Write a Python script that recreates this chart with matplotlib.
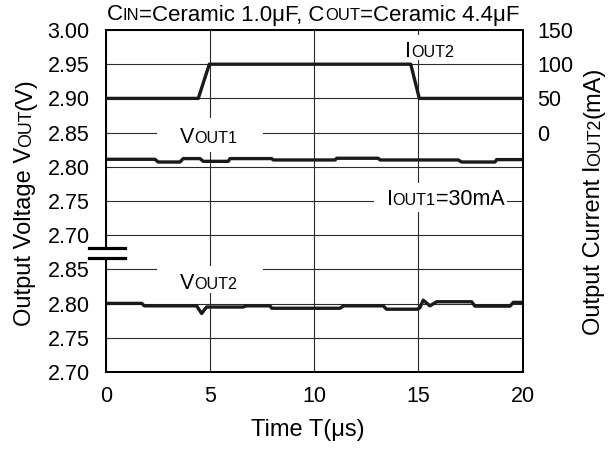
import matplotlib
matplotlib.use('Agg')
import matplotlib.pyplot as plt
import matplotlib.transforms as mtransforms
from matplotlib.offsetbox import TextArea, HPacker, AnnotationBbox
from matplotlib.patches import Rectangle
from matplotlib.lines import Line2D

plt.rcParams['font.family'] = ['Liberation Sans', 'DejaVu Sans']

# ---------------- data ----------------
time_ticks = [0, 5, 10, 15, 20]
upper_ticks = [2.70, 2.75, 2.80, 2.85, 2.90, 2.95, 3.00]
lower_ticks = [2.70, 2.75, 2.80, 2.85]
iout_ticks = [0, 50, 100, 150]

vout1_t = [0, 2.36, 2.52, 3.56, 3.72, 4.52, 4.68, 5.88, 5.96, 7.96, 8.04,
           11.0, 11.08, 13.07, 13.16, 16.91, 17.07, 18.67, 18.75, 20]
vout1_v = [2.811, 2.811, 2.807, 2.807, 2.812, 2.812, 2.808, 2.808, 2.812, 2.812, 2.810,
           2.810, 2.8125, 2.8125, 2.810, 2.810, 2.807, 2.807, 2.8105, 2.8105]

vout2_t = [0, 1.73, 1.85, 4.36, 4.6, 4.84, 6.59, 6.75, 7.88, 7.96, 11.24, 11.4,
           13.31, 13.47, 14.95, 15.07, 15.23, 15.55, 15.87, 17.55, 17.71, 19.39, 19.55, 20]
vout2_v = [2.8003, 2.8003, 2.7967, 2.7967, 2.7855, 2.795, 2.795, 2.7967, 2.7967, 2.7932, 2.7932, 2.7967,
           2.7967, 2.7918, 2.7918, 2.794, 2.805, 2.7967, 2.8027, 2.8027, 2.7963, 2.7963, 2.8018, 2.8018]

iout2_t = [0, 4.44, 4.97, 14.63, 15.04, 20]
iout2_i = [50, 50, 100, 100, 50, 50]

# ---------------- style ----------------
FS_TICK = 15.5
FS_LAB = 15.5
FS_AX = 17
FS_TITLE = 16
SC = 0.75
LINE_C = '#1a1a1a'
GRID_C = '#2a2a2a'
W, H = 612, 451

fig = plt.figure(figsize=(W / 100, H / 100), dpi=100)
pos = [105.7 / W, 1 - 372 / H, (522.7 - 105.7) / W, (372 - 30) / H]

ax_low = fig.add_axes(pos)
ax_up = fig.add_axes(pos, sharex=ax_low)
ax_up.patch.set_visible(False)
ax_i = ax_up.twinx()

for a in (ax_low, ax_up, ax_i):
    for s in a.spines.values():
        s.set_linewidth(1.3)
        s.set_color('black')

# lower voltage axis
ax_low.set_xticks(time_ticks)
ax_low.set_xticklabels([str(t) for t in time_ticks])
ax_low.set_yticks(lower_ticks)
ax_low.set_yticklabels(['%.2f' % v for v in lower_ticks])
ax_low.tick_params(axis='both', length=0, labelsize=FS_TICK)
ax_low.tick_params(axis='y', pad=11.5)
ax_low.tick_params(axis='x', pad=10)
ax_low.grid(True, axis='both', color=GRID_C, linewidth=0.8)
ax_low.set_axisbelow(True)

# upper voltage axis
ax_up.set_yticks(upper_ticks)
ax_up.set_yticklabels(['%.2f' % v for v in upper_ticks])
ax_up.tick_params(axis='y', length=0, labelsize=FS_TICK, pad=11.5)
ax_up.tick_params(axis='x', length=0, labelbottom=False)
ax_up.grid(True, axis='y', color=GRID_C, linewidth=0.8)

# current axis
ax_i.set_yticks(iout_ticks)
ax_i.set_yticklabels([str(v) for v in iout_ticks])
ax_i.tick_params(axis='y', length=0, labelsize=FS_TICK, pad=10.5)

# lines
ax_low.plot(vout2_t, vout2_v, color=LINE_C, lw=2.4, zorder=3)
ax_up.plot(vout1_t, vout1_v, color=LINE_C, lw=2.4, zorder=3)
ax_i.plot(iout2_t, iout2_i, color=LINE_C, lw=2.4, zorder=3)

# white gaps behind in-plot labels
gaps = [
    (ax_up, 2.46, 2.8215, 7.54, 2.8715),
    (ax_low, 2.46, 2.8155, 7.54, 2.8545),
    (ax_i, 14.1, 106, 17.0, 142.5),
    (ax_up, 12.87, 2.734, 19.25, 2.7765),
]
for a, x0, y0, x1, y1 in gaps:
    r = Rectangle((x0, y0), x1 - x0, y1 - y0, facecolor='white', edgecolor='none',
                  transform=a.transData, zorder=4)
    ax_i.add_patch(r)


def sc_label(x, y, parts, xycoords, fs):
    children = [TextArea(s, textprops=dict(fontsize=(fs if big else fs * SC), color='black'))
                for s, big in parts]
    pack = HPacker(children=children, align='baseline', pad=0, sep=0)
    ab = AnnotationBbox(pack, (x, y), xycoords=xycoords, frameon=False,
                        box_alignment=(0.5, 0.5), zorder=6, annotation_clip=False)
    ax_i.add_artist(ab)


sc_label(4.95, 2.8435, [('V', True), ('OUT1', False)], ax_up.transData, FS_LAB)
sc_label(4.95, 2.83, [('V', True), ('OUT2', False)], ax_low.transData, FS_LAB)
sc_label(15.55, 118, [('I', True), ('OUT2', False)], ax_i.transData, FS_LAB)
sc_label(16.3, 2.7515, [('I', True), ('OUT1', False), ('=30mA', True)], ax_up.transData, FS_LAB)

# title
sc_label(313, H - 15, [('C', True), ('IN', False), ('=Ceramic 1.0\u03bcF, C', True),
                       ('OUT', False), ('=Ceramic 4.4\u03bcF', True)], 'figure pixels', FS_TITLE)

# x label
fig.text(307.5 / W, 1 - 430 / H, 'Time T(\u03bcs)', fontsize=FS_AX, ha='center', va='center')

# axis break marks
ax_i.add_patch(Rectangle((-0.012, 0.3325), 0.024, 0.031, facecolor='white', edgecolor='none',
                         transform=ax_i.transAxes, clip_on=False, zorder=5))
for yy in (0.3325, 0.3635):
    ax_i.add_line(Line2D([-0.04, 0.046], [yy, yy], color='black', lw=2.3,
                         transform=ax_i.transAxes, clip_on=False, zorder=6))

# limits
ax_low.set_xlim(0, 20)
ax_low.set_ylim(2.70, 3.20)
ax_up.set_ylim(2.50, 3.00)
ax_i.set_ylim(-350, 150)

# rotated y labels with small-caps pieces
renderer = fig.canvas.get_renderer()
ident = mtransforms.IdentityTransform()


def rotated_label(x_base, y_center, parts, fs):
    texts = []
    lengths = []
    for s, big in parts:
        t = fig.text(0, 0, s, fontsize=(fs if big else fs * SC), rotation=90,
                     rotation_mode='anchor', ha='left', va='baseline', transform=ident)
        texts.append(t)
        lengths.append(t.get_window_extent(renderer).height)
    y = (H - y_center) - sum(lengths) / 2
    for t, L in zip(texts, lengths):
        t.set_position((x_base, y))
        y += L


rotated_label(31, 202, [('Output Voltage V', True), ('OUT', False), ('(V)', True)], FS_AX)
rotated_label(600, 201, [('Output Current I', True), ('OUT2', False), ('(mA)', True)], FS_AX)

fig.savefig('out.png', dpi=100)
